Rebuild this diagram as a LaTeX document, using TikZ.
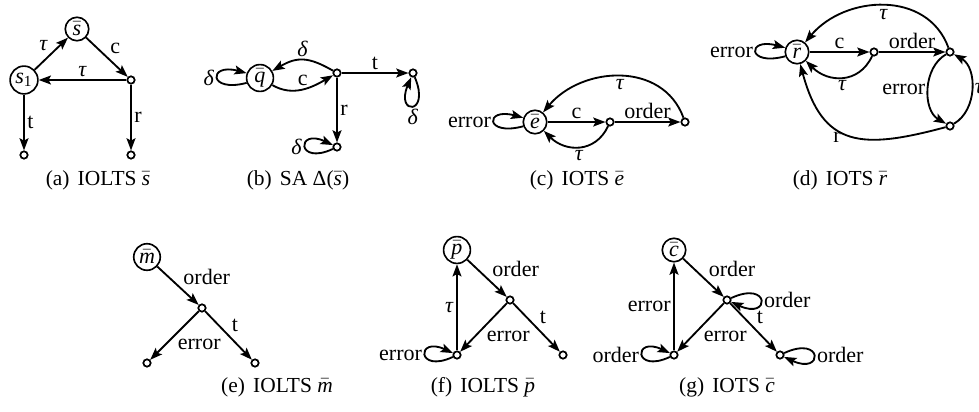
\documentclass[tikz,border=0pt]{standalone}
\usepackage{fontspec}
\setmainfont{Liberation Serif}
\usetikzlibrary{arrows.meta}
\newcommand{\vb}[1]{$\bar{\hbox{\itshape #1}}$}
\newcommand{\gt}{\textit{τ}}
\newcommand{\gd}{\textit{δ}}
\begin{document}
\begin{tikzpicture}[x=0.49pt,y=0.49pt,font=\fontsize{10.8}{12}\selectfont,
  st/.style={circle,draw,line width=0.8pt,minimum size=11.5pt,inner sep=1pt},
  dt/.style={circle,draw,line width=0.85pt,minimum size=3.6pt,inner sep=0pt},
  tr/.style={line width=0.9pt,-{Stealth[length=6pt,width=4.4pt,inset=1.2pt]}},
  lb/.style={inner sep=1.2pt},
  captxt/.style={inner sep=0pt,font=\fontsize{10.5}{12}\selectfont}]
\useasboundingbox (0,0) rectangle (979,-411);
% (a)
\node[st] (a0) at (77,-29) {\vb{s}};
\node[st] (a1) at (24,-80) {\textit{s}\textsubscript{1}};
\node[dt] (a2) at (131,-80) {};
\node[dt] (a3) at (24,-155) {};
\node[dt] (a4) at (131,-155) {};
\draw[tr] (a1) -- node[lb,above left] {\gt} (a0);
\draw[tr] (a0) -- node[lb,above right] {c} (a2);
\draw[tr] (a2) -- node[lb,above] {\gt} (a1);
\draw[tr] (a1) -- node[lb,right] {t} (a3);
\draw[tr] (a2) -- node[lb,right] {r} (a4);
\node[captxt] (ca) at (98,-180) {(a)\hspace{4pt}IOLTS \vb{s}};
% (b)
\node[st] (b0) at (260,-78) {\vb{q}};
\node[dt] (b1) at (337,-73) {};
\node[dt] (b2) at (413,-73) {};
\node[dt] (b3) at (337,-147) {};
\draw[tr] (b0.200) .. controls +(195:40) and +(165:40) .. node[lb,left] {\gd} (b0.160);
\draw[tr] (b0) to[out=-30,in=-150] node[lb,above] {c} (b1);
\draw[tr] (b1) to[out=150,in=30,looseness=1.2] node[lb,above] {\gd} (b0);
\draw[tr] (b1) -- node[lb,above] {t} (b2);
\draw[tr] (b2) .. controls +(293:46) and +(247:46) .. node[lb,below] {\gd} (b2);
\draw[tr] (b1) -- node[lb,right] {r} (b3);
\draw[tr] (b3) .. controls +(205:45) and +(155:45) .. node[lb,left] {\gd} (b3);
\node[captxt] (cb) at (298,-180) {(b)\hspace{4pt}SA Δ(\vb{s})};
% (c)
\node[st] (c0) at (535,-122) {\vb{e}};
\node[dt] (c1) at (610,-122) {};
\node[dt] (c2) at (685,-122) {};
\draw[tr] (c0.200) .. controls +(195:40) and +(165:40) .. node[lb,left] {error} (c0.160);
\draw[tr] (c0) -- node[lb,above] {c} (c1);
\draw[tr] (c1) to[out=-115,in=-45,looseness=1.2] node[lb,below] {\gt} (c0);
\draw[tr] (c1) -- node[lb,above] {order} (c2);
\draw[tr] (c2) to[out=110,in=50,looseness=1.1] node[lb,below] {\gt} (c0);
\node[captxt] (cc) at (577,-180) {(c)\hspace{4pt}IOTS \vb{e}};
% (d)
\node[st] (d0) at (797,-52) {\vb{r}};
\node[dt] (d1) at (874,-52) {};
\node[dt] (d2) at (950,-52) {};
\node[dt] (d3) at (950,-126) {};
\draw[tr] (d0.200) .. controls +(195:40) and +(165:40) .. node[lb,left] {error} (d0.160);
\draw[tr] (d0) -- node[lb,above] {c} (d1);
\draw[tr] (d1) to[out=-115,in=-45,looseness=1.2] node[lb,below] {\gt} (d0);
\draw[tr] (d1) -- node[lb,above] {order} (d2);
\draw[tr] (d2) to[out=110,in=50,looseness=1.1] node[lb,below] {\gt} (d0);
\draw[tr] (d2) to[out=210,in=150] node[lb,left] {error} (d3);
\draw[tr] (d3) to[out=30,in=-30] node[lb,right] {\gt} (d2);
\draw[tr] (d3) to[out=195,in=-75,looseness=1.4] node[lb,below,pos=0.6] {r} (d0);
\node[captxt] (cd) at (840,-180) {(d)\hspace{4pt}IOTS \vb{r}};
% (e)
\node[st] (e0) at (147,-257) {\vb{m}};
\node[dt] (e1) at (202,-308) {};
\node[dt] (e2) at (147,-363) {};
\node[dt] (e3) at (255,-363) {};
\draw[tr] (e0) -- node[lb,above right,pos=0.55] {order} (e1);
\draw[tr] (e1) -- node[lb,below right] {error} (e2);
\draw[tr] (e1) -- node[lb,above right] {t} (e3);
\node[captxt] (ce) at (277,-387) {(e)\hspace{4pt}IOLTS \vb{m}};
% (f)
\node[st] (f0) at (457,-250) {\vb{p}};
\node[dt] (f1) at (510,-300) {};
\node[dt] (f2) at (457,-355) {};
\node[dt] (f3) at (563,-355) {};
\draw[tr] (f0) -- node[lb,above right,pos=0.55] {order} (f1);
\draw[tr] (f1) -- node[lb,below right] {error} (f2);
\draw[tr] (f1) -- node[lb,above right] {t} (f3);
\draw[tr] (f2) -- node[lb,left] {\gt} (f0);
\draw[tr] (f2) .. controls +(205:45) and +(155:45) .. node[lb,left] {error} (f2);
\node[captxt] (cf) at (483,-387) {(f)\hspace{4pt}IOLTS \vb{p}};
% (g)
\node[st] (g0) at (674,-250) {\vb{c}};
\node[dt] (g1) at (727,-300) {};
\node[dt] (g2) at (674,-355) {};
\node[dt] (g3) at (780,-355) {};
\draw[tr] (g0) -- node[lb,above right,pos=0.55] {order} (g1);
\draw[tr] (g1) .. controls +(25:48) and +(-25:48) .. node[lb,right] {order} (g1);
\draw[tr] (g1) -- node[lb,below right] {error} (g2);
\draw[tr] (g1) -- node[lb,above right] {t} (g3);
\draw[tr] (g2) -- node[lb,left] {error} (g0);
\draw[tr] (g2) .. controls +(205:45) and +(155:45) .. node[lb,left] {order} (g2);
\draw[tr] (g3) .. controls +(25:48) and +(-25:48) .. node[lb,right] {order} (g3);
\node[captxt] (cg) at (727,-387) {(g)\hspace{4pt}IOTS \vb{c}};
\end{tikzpicture}
\end{document}
